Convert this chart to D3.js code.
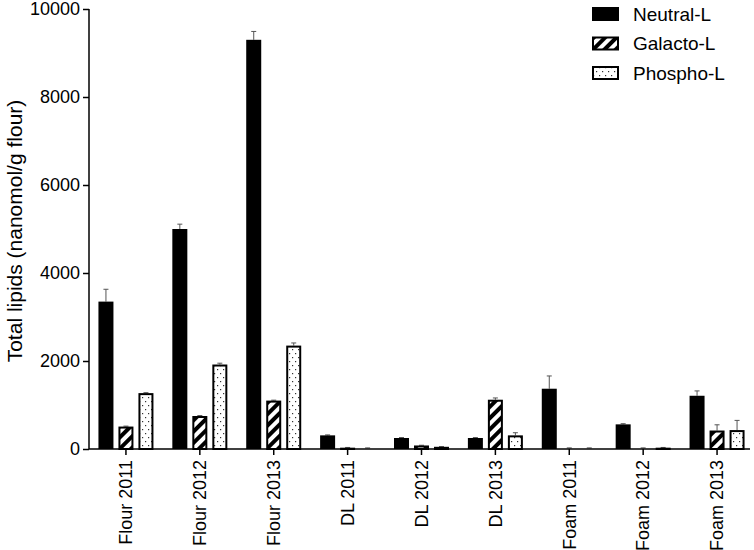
<!DOCTYPE html>
<html>
<head>
<meta charset="utf-8">
<script src="https://cdn.jsdelivr.net/npm/d3@7"></script>
<style>
body { margin: 0; background: #fff; }
text { font-family: "Liberation Sans", Arial, sans-serif; fill: #000; }
</style>
</head>
<body>
<svg width="754" height="550"></svg>
<script>
var categories = ["Flour 2011", "Flour 2012", "Flour 2013", "DL 2011", "DL 2012", "DL 2013", "Foam 2011", "Foam 2012", "Foam 2013"];
var series = ["Neutral-L", "Galacto-L", "Phospho-L"];
var neutral = [3350, 5000, 9300, 310, 250, 250, 1370, 560, 1210];
var neutralErr = [280, 110, 190, 10, 10, 10, 290, 15, 110];
var galacto = [510, 750, 1100, 30, 80, 1120, 20, 20, 420];
var galactoErr = [10, 10, 10, 5, 5, 40, 5, 5, 130];
var phospho = [1270, 1920, 2350, 20, 50, 310, 20, 30, 430];
var phosphoErr = [10, 30, 60, 5, 5, 60, 5, 5, 220];
var yTicks = [0, 2000, 4000, 6000, 8000, 10000];

var values = [neutral, galacto, phospho];
var errors = [neutralErr, galactoErr, phosphoErr];

var svg = d3.select("svg");
var mLeft = 89, mBottom = 449, mTop = 9, mRight = 754;

var defs = svg.append("defs");
var stripes = defs.append("pattern")
    .attr("id", "stripes")
    .attr("patternUnits", "userSpaceOnUse")
    .attr("width", 8).attr("height", 8)
    .attr("patternTransform", "rotate(45)");
stripes.append("rect").attr("width", 8).attr("height", 8).attr("fill", "#fff");
stripes.append("rect").attr("width", 4).attr("height", 8).attr("fill", "#000");

var dots = defs.append("pattern")
    .attr("id", "dots")
    .attr("patternUnits", "userSpaceOnUse")
    .attr("width", 6).attr("height", 8);
dots.append("rect").attr("width", 6).attr("height", 8).attr("fill", "#fff");
dots.append("rect").attr("x", 1).attr("y", 1).attr("width", 1.2).attr("height", 1.2).attr("fill", "#333");
dots.append("rect").attr("x", 4).attr("y", 5).attr("width", 1.2).attr("height", 1.2).attr("fill", "#333");

var fills = ["#000", "url(#stripes)", "url(#dots)"];

var x0 = d3.scaleBand().domain(categories).range([mLeft, mRight]);
var x1 = d3.scaleBand().domain(series).range([-30, 30]);
var y = d3.scaleLinear().domain([0, 10000]).range([mBottom, mTop]);
var barW = 15;

// bars
series.forEach(function(s, si) {
  var g = svg.append("g");
  var bx = function(i) { return x0(categories[i]) + x0.bandwidth() / 2 + x1(s) + (x1.bandwidth() - barW) / 2; };

  // error bars (upper only)
  g.selectAll("line.err").data(values[si]).enter().append("line")
    .attr("class", "err")
    .attr("x1", function(d, i) { return bx(i) + barW / 2; })
    .attr("x2", function(d, i) { return bx(i) + barW / 2; })
    .attr("y1", function(d) { return y(d); })
    .attr("y2", function(d, i) { return y(d + errors[si][i]); })
    .attr("stroke", "#555").attr("stroke-width", 1);
  g.selectAll("line.cap").data(values[si]).enter().append("line")
    .attr("class", "cap")
    .attr("x1", function(d, i) { return bx(i) + barW / 2 - 2.5; })
    .attr("x2", function(d, i) { return bx(i) + barW / 2 + 2.5; })
    .attr("y1", function(d, i) { return y(d + errors[si][i]); })
    .attr("y2", function(d, i) { return y(d + errors[si][i]); })
    .attr("stroke", "#555").attr("stroke-width", 1);

  g.selectAll("rect").data(values[si]).enter().append("rect")
    .attr("x", function(d, i) { return bx(i) + (si ? 1 : 0); })
    .attr("width", barW - (si ? 2 : 0))
    .attr("y", function(d) { return y(d) + (si ? 1 : 0); })
    .attr("height", function(d) { return Math.max(0, mBottom - y(d) - (si ? 1 : 0)); })
    .attr("fill", fills[si])
    .attr("stroke", si ? "#000" : "none")
    .attr("stroke-width", 2);
});

// y axis
var yAxis = svg.append("g")
    .attr("transform", "translate(" + mLeft + ",0)")
    .call(d3.axisLeft(y).tickValues(yTicks).tickSize(6).tickPadding(3).tickFormat(d3.format("d")));
yAxis.selectAll("text").style("font-size", "18px");
yAxis.selectAll("line, path").attr("stroke", "#000").attr("stroke-width", 1.5);
yAxis.select("path").attr("d", "M0," + mTop + "V" + mBottom);

// x axis
var xAxis = svg.append("g")
    .attr("transform", "translate(0," + mBottom + ")")
    .call(d3.axisBottom(x0).tickSize(6).tickSizeOuter(0));
xAxis.select("path").attr("d", "M" + mLeft + ",0H" + (mRight - 4));
xAxis.selectAll("line, path").attr("stroke", "#000").attr("stroke-width", 1.5);
xAxis.selectAll("text")
    .style("font-size", "18px")
    .attr("transform", "rotate(-90)")
    .attr("text-anchor", "end")
    .attr("dy", "0.35em")
    .attr("x", -11)
    .attr("y", 0);

// y title
svg.append("text")
    .attr("transform", "translate(15,231) rotate(-90)")
    .attr("text-anchor", "middle")
    .attr("dy", "0.35em")
    .style("font-size", "21px")
    .text("Total lipids (nanomol/g flour)");

// legend
var legend = svg.append("g").attr("transform", "translate(592,7)");
series.forEach(function(s, i) {
  var row = legend.append("g").attr("transform", "translate(0," + (i * 29.5) + ")");
  row.append("rect")
    .attr("x", i ? 1 : 0).attr("y", i ? 1 : 0)
    .attr("width", i ? 25 : 27).attr("height", i ? 12 : 14)
    .attr("fill", fills[i])
    .attr("stroke", i ? "#000" : "none")
    .attr("stroke-width", 2);
  row.append("text")
    .attr("x", 41).attr("y", 7)
    .attr("dy", "0.35em")
    .style("font-size", "19px")
    .text(s);
});
</script>
</body>
</html>
